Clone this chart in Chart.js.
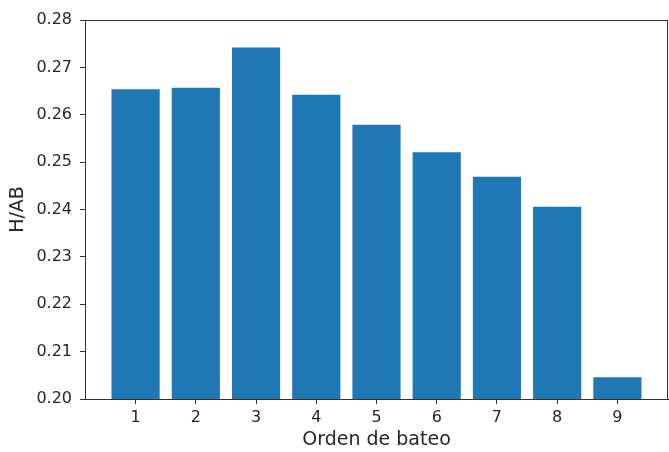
<!DOCTYPE html>
<html lang="en">
<head>
    <meta charset="UTF-8">
    <title>H/AB por orden de bateo</title>
    <style>
        body {
            margin: 0;
            background-color: #fff;
        }
        canvas {
            display: block;
        }
    </style>
</head>
<body>
    <canvas id="chart" width="669" height="452"></canvas>

    <script src="https://cdn.jsdelivr.net/npm/chart.js"></script>
    <script>
        // datos
        const battingOrder = [1, 2, 3, 4, 5, 6, 7, 8, 9];
        const hitsPerAB = [0.2654, 0.2657, 0.2742, 0.2642, 0.2579, 0.2521, 0.2469, 0.2406, 0.2046];
        const yTicks = [0.20, 0.21, 0.22, 0.23, 0.24, 0.25, 0.26, 0.27, 0.28];

        const tickFont = { family: 'DejaVu Sans', size: 16 };
        const titleFont = { family: 'DejaVu Sans', size: 19 };
        const textColor = '#262626';

        // marco completo alrededor del área del gráfico (estilo matplotlib)
        const frame = {
            id: 'frame',
            afterDatasetsDraw(chart) {
                const a = chart.chartArea;
                const ctx = chart.ctx;
                ctx.save();
                ctx.strokeStyle = '#333';
                ctx.lineWidth = 1;
                ctx.strokeRect(a.left + 0.5, a.top + 0.5, a.right - a.left - 1, a.bottom - a.top);
                ctx.restore();
            }
        };

        const ctx = document.getElementById('chart').getContext('2d');
        new Chart(ctx, {
            type: 'bar',
            data: {
                datasets: [{
                    data: battingOrder.map((o, i) => ({ x: o, y: hitsPerAB[i] })),
                    backgroundColor: '#1f77b4',
                    borderWidth: 0,
                    categoryPercentage: 1,
                    barPercentage: 0.8
                }]
            },
            options: {
                responsive: false,
                animation: false,
                layout: { padding: { top: 20, right: 1, left: 0, bottom: 0 } },
                plugins: {
                    legend: { display: false },
                    tooltip: { enabled: false }
                },
                scales: {
                    x: {
                        type: 'linear',
                        min: 0.16,
                        max: 9.84,
                        offset: false,
                        afterBuildTicks(scale) {
                            scale.ticks = battingOrder.map(v => ({ value: v }));
                        },
                        afterFit(scale) {
                            scale.height = 53;
                        },
                        ticks: {
                            font: tickFont,
                            color: textColor,
                            padding: 4,
                            maxRotation: 0
                        },
                        grid: {
                            display: true,
                            offset: false,
                            drawOnChartArea: false,
                            drawTicks: true,
                            tickLength: 5,
                            color: '#333'
                        },
                        border: { display: true, color: '#333' },
                        title: {
                            display: true,
                            text: 'Orden de bateo',
                            font: titleFont,
                            color: textColor,
                            padding: { top: 0, bottom: 1 }
                        }
                    },
                    y: {
                        min: 0.2,
                        max: 0.28,
                        afterBuildTicks(scale) {
                            scale.ticks = yTicks.map(v => ({ value: v }));
                        },
                        afterFit(scale) {
                            scale.width = 85;
                        },
                        ticks: {
                            font: tickFont,
                            color: textColor,
                            padding: 8,
                            callback: v => v.toFixed(2)
                        },
                        grid: {
                            display: true,
                            drawOnChartArea: false,
                            drawTicks: true,
                            tickLength: 5,
                            color: '#333'
                        },
                        border: { display: true, color: '#333' },
                        title: {
                            display: true,
                            text: 'H/AB',
                            font: titleFont,
                            color: textColor,
                            padding: { top: 7, bottom: 0 }
                        }
                    }
                }
            },
            plugins: [frame]
        });
    </script>
</body>
</html>
